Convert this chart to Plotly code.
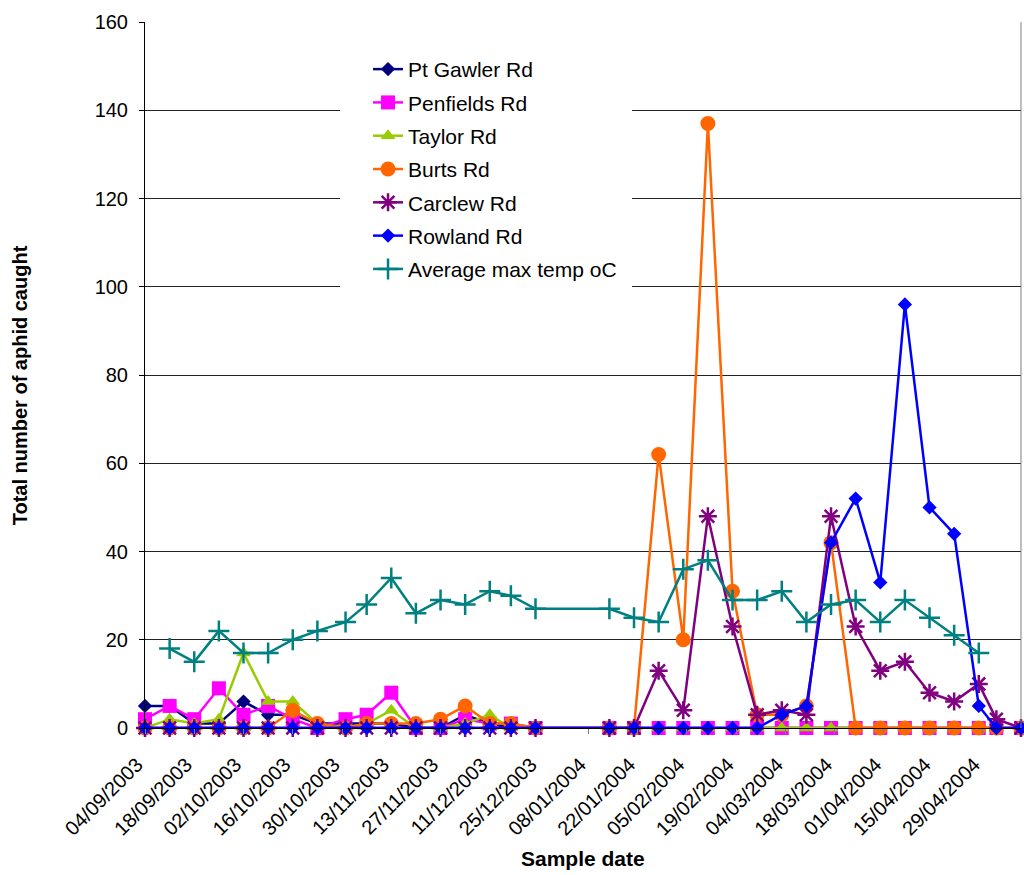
import plotly.graph_objects as go

# Sample dates (weekly trap collections)
dates = [
    "2003-09-04", "2003-09-11", "2003-09-18", "2003-09-25", "2003-10-02",
    "2003-10-09", "2003-10-16", "2003-10-23", "2003-10-31", "2003-11-06",
    "2003-11-13", "2003-11-20", "2003-11-27", "2003-12-04", "2003-12-11",
    "2003-12-17", "2003-12-24", "2004-01-14", "2004-01-21", "2004-01-28",
    "2004-02-04", "2004-02-11", "2004-02-18", "2004-02-25", "2004-03-03",
    "2004-03-10", "2004-03-17", "2004-03-24", "2004-03-31", "2004-04-07",
    "2004-04-14", "2004-04-21", "2004-04-28", "2004-05-03", "2004-05-10",
]

pt_gawler = [5, 5, 1, 1, 6, 3, 3, 1, 1, 1, 1, 0, 0, 3, 1, 0, 0,
             0, 0, 0, 0, 0, 0, 0, 0, 0, 0, 0, 0, 0, 0, 0, 0, 0, 0]
penfields = [2, 5, 2, 9, 3, 5, 2, 0, 2, 3, 8, 0, 0, 2, 1, 1, 0,
             0, 0, 0, 0, 0, 0, 0, 0, 0, 0, 0, 0, 0, 0, 0, 0, 0, 0]
taylor = [0, 2, 1, 2, 17, 6, 6, 1, 0, 1, 4, 0, 0, 1, 3, 0, 0,
          0, 0, 0, 0, 0, 0, 0, 0, 0, 0, 0, 0, 0, 0, 0, 0, 0, 0]
burts = [0, 0, 0, 0, 0, 0, 4, 1, 0, 1, 1, 1, 2, 5, 1, 1, 0,
         0, 0, 62, 20, 137, 31, 3, 3, 5, 42, 0, 0, 0, 0, 0, 0, 0, 0]
carclew = [0, 0, 0, 0, 0, 0, 0, 0, 0, 0, 0, 0, 0, 0, 0, 0, 0,
           0, 0, 13, 4, 48, 23, 3, 4, 3, 48, 23, 13, 15, 8, 6, 10, 2, 0]
rowland = [0, 0, 0, 0, 0, 0, 0, 0, 0, 0, 0, 0, 0, 0, 0, 0, 0,
           0, 0, 0, 0, 0, 0, 0, 3, 5, 42, 52, 33, 96, 50, 44, 5, 0, 0]
avg_max_temp = [None, 18, 15, 22, 17, 17, 20, 22, 24, 28, 34, 26, 29, 28, 31, 30, 27,
                27, 25, 24, 36, 38, 29, 29, 31, 24, 28, 29, 24, 29, 25, 21, 17, None, None]

FONT = "Liberation Sans, Arial, sans-serif"

series = [
    ("Pt Gawler Rd", pt_gawler, "#000080", dict(symbol="diamond", size=11)),
    ("Penfields Rd", penfields, "#FF00FF", dict(symbol="square", size=14)),
    ("Taylor Rd", taylor, "#99CC00", dict(symbol="triangle-up", size=13)),
    ("Burts Rd", burts, "#FF6600", dict(symbol="circle", size=15)),
    ("Carclew Rd", carclew, "#800080", dict(symbol="asterisk-open", size=15,
                                            line=dict(width=2.5, color="#800080"))),
    ("Rowland Rd", rowland, "#0000FF", dict(symbol="diamond", size=11)),
    ("Average max temp oC", avg_max_temp, "#008080", dict(symbol="cross-thin-open", size=15,
                                                          line=dict(width=2.5, color="#008080"))),
]

fig = go.Figure()
for i, (name, vals, color, mk) in enumerate(series):
    marker = dict(color=color, **mk)
    fig.add_trace(go.Scatter(
        x=dates, y=vals, name=name, mode="lines+markers",
        line=dict(color=color, width=2.5),
        marker=marker, cliponaxis=False, legendgroup=f"g{i}",
        connectgaps=False,
    ))

fig.update_layout(
    width=1024, height=875,
    margin=dict(l=145, r=3, t=22, b=147),
    paper_bgcolor="white", plot_bgcolor="white",
    font=dict(family=FONT, size=20, color="black"),
    showlegend=True,
    legend=dict(
        x=0.2546, y=0.9618, xanchor="left", yanchor="top",
        bgcolor="rgba(0,0,0,0)", borderwidth=0,
        font=dict(family=FONT, size=21, color="black"),
        tracegroupgap=3,
    ),
    hovermode=False,
)

fig.update_xaxes(
    type="date",
    range=["2003-09-04", "2004-05-10"],
    tick0="2003-09-04", dtick=14 * 86400000,
    tickformat="%d/%m/%Y", tickangle=-45,
    ticks="outside", ticklen=5, tickcolor="#808080",
    ticklabelstandoff=11, ticklabelshift=-8,
    showline=True, linecolor="black", linewidth=1,
    showgrid=False, zeroline=False,
    tickfont=dict(family=FONT, size=20, color="black"),
)
fig.update_yaxes(
    range=[0, 160], dtick=20,
    ticks="outside", ticklen=5, tickcolor="black",
    ticklabelstandoff=7,
    showline=True, linecolor="black", linewidth=1,
    showgrid=True, gridcolor="#222222", gridwidth=1,
    zeroline=False,
    tickfont=dict(family=FONT, size=20, color="black"),
)

# white panel behind the legend, masking the gridlines
fig.add_shape(type="rect", xref="paper", yref="paper",
              x0=0.2226, x1=0.556, y0=0.6176, y1=0.963,
              fillcolor="white", line=dict(width=0), layer="above")

fig.add_annotation(
    text="<b>Total number of aphid caught</b>", textangle=-90,
    xref="paper", yref="paper", x=-0.143, y=0.485,
    xanchor="center", yanchor="middle", showarrow=False,
    font=dict(family=FONT, size=20, color="black"),
)
fig.add_annotation(
    text="<b>Sample date</b>",
    xref="paper", yref="paper", x=0.5, y=-0.185,
    xanchor="center", yanchor="middle", showarrow=False,
    font=dict(family=FONT, size=21, color="black"),
)
# right-hand border of the plot area
fig.add_shape(type="line", xref="paper", yref="paper", x0=1, x1=1, y0=0, y1=1,
              line=dict(color="#808080", width=1))

fig.write_html("out.html")
